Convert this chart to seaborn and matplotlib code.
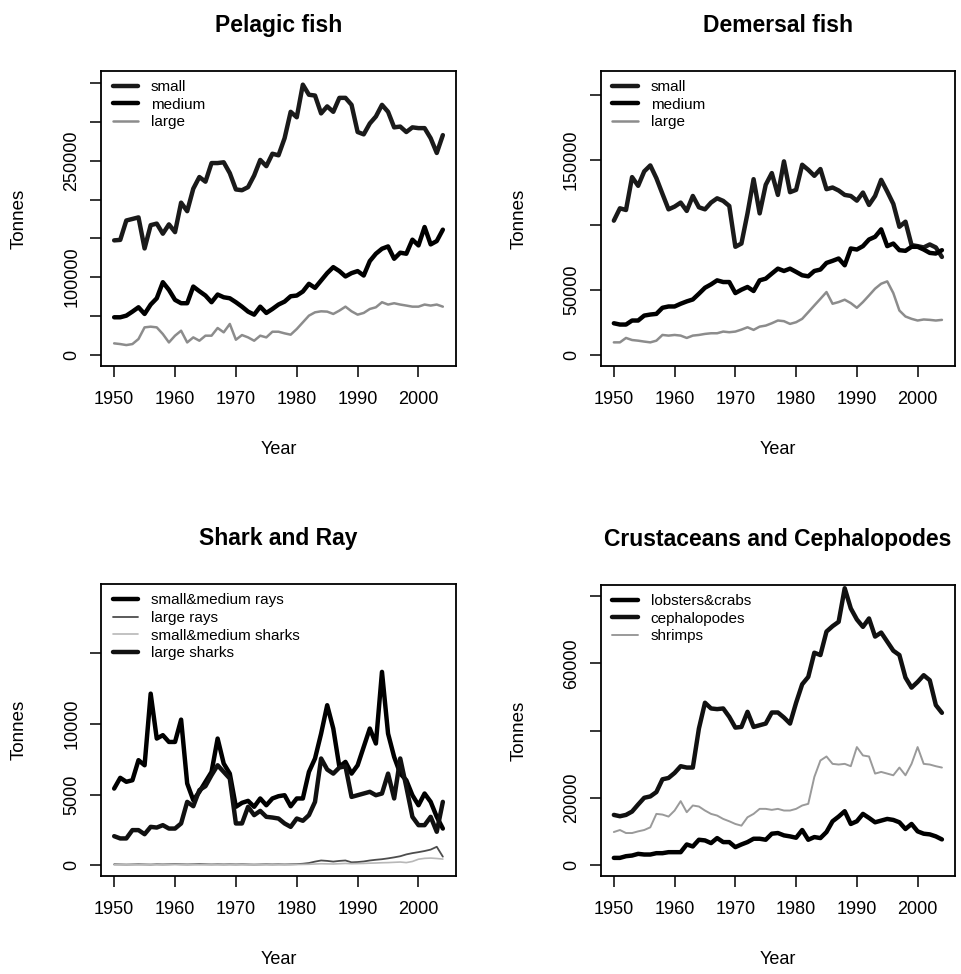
"""
Landings by species group, 1950-2004 – four panels in the style of R base graphics.
"""

import numpy as np
import pandas as pd
import matplotlib
matplotlib.use("Agg")
import matplotlib.pyplot as plt
import seaborn as sns

sns.set_style("ticks")
plt.rcParams["font.family"] = ["Liberation Sans", "DejaVu Sans"]
plt.rcParams.update({"text.color": "black", "axes.labelcolor": "black",
                     "xtick.color": "black", "ytick.color": "black",
                     "axes.edgecolor": "black"})

YEARS = list(range(1950, 2005))

# Pelagic fish
pel_small = [147400, 148000, 173000, 175000, 177000, 137000, 167000, 169000, 156000, 168000,
             158000, 196000, 185000, 214000, 229000, 223000, 247000, 247000, 248000, 234000,
             213000, 212000, 216000, 231000, 251000, 243000, 259000, 257000, 279000, 313000,
             306000, 348000, 335000, 334000, 311000, 320000, 313000, 331000, 331000, 322000,
             287000, 284000, 298000, 307000, 322000, 313000, 293000, 294000, 287000, 293000,
             292000, 292000, 279000, 260000, 283000]
pel_medium = [48300, 48300, 50400, 55600, 61200, 52600, 64700, 72800, 93500, 83600,
              70700, 66400, 66400, 87900, 81900, 76300, 67700, 77600, 74100, 72800,
              67700, 62000, 55600, 51700, 62000, 53900, 59000, 64700, 68500, 75400,
              76300, 81500, 91400, 86200, 95700, 105200, 112900, 107800, 100900, 105200,
              107800, 102100, 120700, 130200, 136600, 139600, 123700, 131500, 130200, 148300,
              140900, 164600, 142200, 146500, 161200]
pel_large = [14700, 13800, 12500, 13800, 20300, 35300, 36200, 35300, 26700, 15900,
             24600, 31000, 15900, 22400, 18100, 24600, 24600, 34500, 28900, 39700,
             19400, 25400, 22400, 18100, 24600, 22400, 29700, 29700, 27600, 25900,
             33200, 41800, 50400, 54700, 56000, 55600, 52600, 56900, 62000, 56000,
             51700, 53900, 59000, 61200, 67700, 64700, 66400, 64700, 63400, 62000,
             62000, 64700, 63400, 64700, 62000]

# Demersal fish
dem_small = [103100, 112600, 111300, 136600, 129900, 141000, 145600, 135800, 123700, 111800,
             113900, 117000, 110600, 122100, 113400, 111800, 117000, 120300, 118300, 114400,
             83000, 85500, 108700, 135000, 108700, 130700, 139700, 122900, 148700, 125000,
             126800, 146100, 142200, 137600, 142800, 127300, 128600, 126300, 122900, 122100,
             118500, 124700, 115200, 122100, 134500, 125500, 116000, 98400, 102300, 84300,
             83500, 82500, 84800, 82500, 75200]
dem_medium = [24200, 23200, 23200, 26300, 26300, 30100, 30900, 31400, 36100, 37100,
              37100, 39200, 41000, 42500, 46900, 51500, 54100, 57200, 55900, 55900,
              47400, 50000, 52100, 49000, 57200, 58500, 62400, 66200, 64400, 66200,
              63700, 61100, 60300, 64400, 65500, 70600, 72200, 74000, 68800, 81700,
              80900, 83500, 88600, 90700, 96400, 83500, 85500, 80400, 79900, 83000,
              83000, 80900, 78300, 77800, 80400]
dem_large = [9500, 9500, 12900, 11300, 10800, 10100, 9500, 10800, 15200, 14700,
             15200, 14700, 12900, 14700, 15200, 16000, 16500, 16500, 17800, 17300,
             17800, 19300, 21100, 19100, 21600, 22400, 24200, 26300, 25800, 23700,
             25000, 27600, 32700, 37900, 43000, 48200, 39200, 40500, 42300, 39700,
             36100, 40500, 45600, 50800, 54600, 56400, 47400, 34000, 29400, 27600,
             26300, 27100, 26800, 26300, 26800]

# Shark and Ray
sm_rays = [5420, 6180, 5900, 6010, 7430, 7070, 12140, 8960, 9200, 8720,
           8720, 10300, 5780, 4600, 5190, 5900, 6600, 8960, 7190, 6480,
           4130, 4410, 4550, 4130, 4720, 4240, 4720, 4880, 4950, 4170,
           4720, 4720, 6600, 7550, 9310, 11320, 9670, 6960, 7310, 6480,
           7070, 8370, 9670, 8610, 13680, 9310, 7660, 6480, 6010, 4950,
           4240, 5070, 4480, 3420, 2590]
large_rays = [60, 50, 40, 50, 60, 50, 40, 60, 50, 60,
              70, 60, 50, 60, 70, 60, 50, 60, 50, 60,
              50, 60, 50, 40, 50, 60, 50, 60, 50, 60,
              70, 100, 150, 250, 330, 300, 250, 300, 330, 200,
              220, 260, 330, 380, 420, 480, 550, 630, 760, 850,
              920, 1000, 1100, 1300, 600]
sm_sharks = [20, 30, 20, 30, 20, 30, 40, 30, 20, 30,
             40, 30, 20, 30, 20, 30, 40, 30, 20, 30,
             20, 30, 20, 30, 20, 30, 20, 30, 40, 30,
             40, 50, 60, 80, 100, 90, 80, 100, 120, 100,
             110, 120, 140, 150, 170, 180, 200, 220, 180, 260,
             420, 480, 500, 470, 430]
large_sharks = [2050, 1890, 1890, 2480, 2480, 2190, 2710, 2660, 2830, 2590,
                2590, 2950, 4480, 4170, 5310, 5590, 6370, 7070, 6600, 6130,
                2950, 2950, 4130, 3540, 3840, 3420, 3370, 3300, 2950, 2710,
                3300, 3140, 3540, 4480, 7550, 6770, 6480, 6910, 7000, 4830,
                4950, 5070, 5190, 4950, 5070, 6480, 4720, 7550, 5540, 3420,
                2830, 2830, 3420, 2360, 4480]

# Crustaceans and Cephalopodes
lobsters = [2100, 2100, 2600, 2800, 3300, 3100, 3100, 3500, 3500, 3800,
            3800, 3800, 6100, 5500, 7500, 7300, 6500, 8000, 6800, 6800,
            5300, 6100, 6800, 7800, 7800, 7500, 9300, 9500, 8800, 8500,
            8100, 10400, 7500, 8300, 8000, 9800, 13000, 14400, 16000, 12200,
            13000, 15200, 14000, 12700, 13200, 13700, 13400, 12700, 10700, 12200,
            10000, 9300, 9100, 8500, 7600]
cephalopodes = [14900, 14500, 14900, 15900, 18000, 20000, 20400, 21700, 25500, 25900,
                27400, 29400, 29000, 29000, 40600, 48300, 46600, 46400, 46600, 44100,
                40900, 41100, 45600, 41100, 41600, 42100, 45400, 45400, 43900, 42100,
                48300, 53800, 56000, 63200, 62500, 69500, 71100, 72400, 82400, 76400,
                73100, 70900, 73400, 68000, 69200, 66500, 63800, 62500, 55800, 52800,
                54500, 56500, 55000, 47600, 45300]
shrimps = [9800, 10400, 9500, 9500, 10000, 10400, 11200, 15200, 15000, 14400,
           16200, 19000, 15700, 17700, 17400, 16200, 15200, 14700, 13700, 13000,
           12200, 11700, 14200, 15200, 16700, 16700, 16400, 16700, 16200, 16200,
           16700, 17700, 18200, 26200, 31100, 32300, 30100, 29900, 30100, 29400,
           35100, 32600, 32300, 27200, 27700, 27200, 26700, 29000, 26700, 30100,
           35100, 30100, 29900, 29400, 29000]

THICK, BLACK = 3.2, "black"

PANELS = [
    dict(title="Pelagic fish",
         series=[("small", pel_small, "#1a1a1a", THICK),
                 ("medium", pel_medium, BLACK, THICK),
                 ("large", pel_large, "#8c8c8c", 1.8)],
         ylim=(-14500, 365600), yticks=list(range(0, 350001, 50000)),
         ylabels={0: "0", 100000: "100000", 250000: "250000"},
         pos=[0.1051, 0.6242, 0.3694, 0.3029]),
    dict(title="Demersal fish",
         series=[("small", dem_small, "#1a1a1a", THICK),
                 ("medium", dem_medium, BLACK, THICK),
                 ("large", dem_large, "#8c8c8c", 1.8)],
         ylim=(-8700, 218200), yticks=list(range(0, 200001, 50000)),
         ylabels={0: "0", 50000: "50000", 150000: "150000"},
         pos=[0.6251, 0.6242, 0.3687, 0.3029]),
    dict(title="Shark and Ray",
         series=[("small&medium rays", sm_rays, BLACK, THICK),
                 ("large rays", large_rays, "#4d4d4d", 1.3),
                 ("small&medium sharks", sm_sharks, "#b8b8b8", 1.2),
                 ("large sharks", large_sharks, "#111111", THICK)],
         ylim=(-770, 19880), yticks=[0, 5000, 10000, 15000],
         ylabels={0: "0", 5000: "5000", 10000: "10000"},
         pos=[0.1051, 0.1006, 0.3694, 0.2995]),
    dict(title="Crustaceans and Cephalopodes",
         series=[("lobsters&crabs", lobsters, BLACK, THICK),
                 ("cephalopodes", cephalopodes, "#111111", THICK),
                 ("shrimps", shrimps, "#9a9a9a", 1.4)],
         ylim=(-3300, 83370), yticks=[0, 20000, 40000, 60000, 80000],
         ylabels={0: "0", 20000: "20000", 60000: "60000"},
         pos=[0.6251, 0.1006, 0.3687, 0.2988]),
]


def draw_panel(fig, spec):
    ax = fig.add_axes(spec["pos"])
    for name, vals, color, lw in spec["series"]:
        df = pd.DataFrame({"Year": YEARS, "Tonnes": vals})
        sns.lineplot(data=df, x="Year", y="Tonnes", ax=ax, color=color,
                     linewidth=lw, label=name)

    ax.set_xlim(1947.84, 2006.16)
    ax.set_ylim(*spec["ylim"])
    ax.set_xticks(range(1950, 2001, 10))
    ax.set_yticks(spec["yticks"])
    ax.set_yticklabels([spec["ylabels"].get(t, "") for t in spec["yticks"]],
                       rotation=90, va="center")

    for s in ax.spines.values():
        s.set_linewidth(1.3)
        s.set_color("black")
    ax.tick_params(axis="both", length=8, width=1.1, color="black",
                   labelsize=13, labelcolor="black")
    ax.tick_params(axis="x", pad=10)
    ax.tick_params(axis="y", pad=7)

    ax.set_title(spec["title"], fontsize=16.5, fontweight="bold", pad=28, color="black")
    ax.set_xlabel("Year", fontsize=13)
    ax.set_ylabel("Tonnes", fontsize=13.5)
    w_px = spec["pos"][2] * 961
    h_px = spec["pos"][3] * 974
    ax.yaxis.set_label_coords(-73 / w_px, 0.5)
    ax.xaxis.set_label_coords(0.5, -75 / h_px)

    ax.legend(loc="upper left", bbox_to_anchor=(11.7 / w_px, 1 - 9 / h_px),
              frameon=False, fontsize=11, handlelength=1.65, handletextpad=0.85,
              labelspacing=0.24, borderpad=0, borderaxespad=0)
    return ax


def main():
    fig = plt.figure(figsize=(9.61, 9.74), dpi=100)
    for spec in PANELS:
        draw_panel(fig, spec)
    fig.savefig("out.png", dpi=100, facecolor="white")


if __name__ == "__main__":
    main()
